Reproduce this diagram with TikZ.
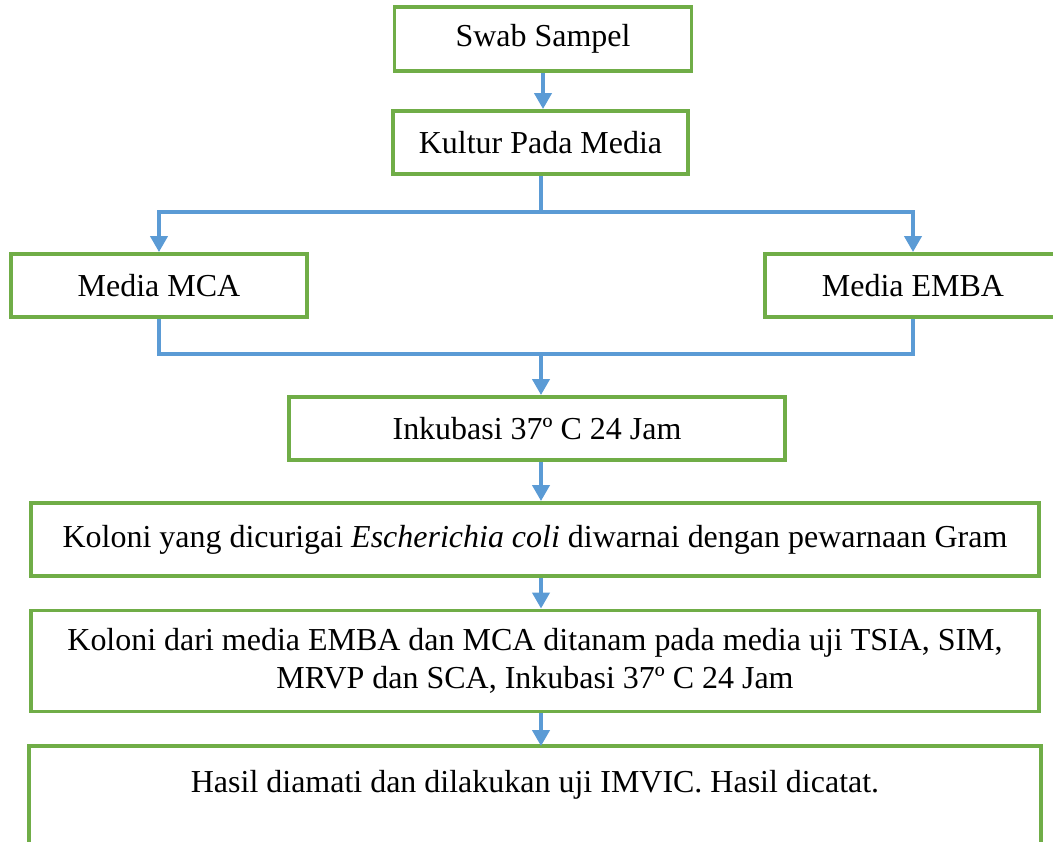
\documentclass[tikz,border=0pt]{standalone}
\usepackage{fontspec}
\setmainfont{Liberation Serif}
\usetikzlibrary{arrows.meta}
\definecolor{boxgreen}{RGB}{112,173,71}
\definecolor{linkblue}{RGB}{91,155,213}

\begin{document}
\begin{tikzpicture}[x=0.02cm, y=-0.02cm,
    stepbox/.style={draw=boxgreen, line width=2.2pt, fill=white, inner sep=0pt,
      align=center, font=\fontsize{18.2}{22}\selectfont},
    link/.style={draw=linkblue, line width=2.2pt},
    arrow/.style={link, -{Triangle[width=0.34cm,length=0.32cm]}}]
    \useasboundingbox (0,0) rectangle (1053,841);
    \clip (0,0) rectangle (1053,841);

    % boxes
    \node[stepbox, minimum width=5.94cm, minimum height=1.28cm] (swab) at (543,39) {Swab Sampel};
    \node[stepbox, minimum width=5.9cm, minimum height=1.26cm] (kultur) at (540.5,142.5) {Kultur Pada Media};
    \node[stepbox, minimum width=5.92cm, minimum height=1.26cm] (mca) at (159,285.5) {Media MCA};
    \node[stepbox, minimum width=5.92cm, minimum height=1.26cm] (emba) at (913,285.5) {Media EMBA};
    \node[stepbox, minimum width=9.92cm, minimum height=1.26cm] (inkub) at (537,428.5) {Inkubasi 37º C 24 Jam};
    \node[stepbox, minimum width=20.16cm, minimum height=1.46cm] (koloni) at (535,539.5)
      {Koloni yang dicurigai \textit{Escherichia coli} diwarnai dengan pewarnaan Gram};
    \node[stepbox, minimum width=20.16cm, minimum height=2.02cm] (tanam) at (535,661)
      {Koloni dari media EMBA dan MCA ditanam pada media uji TSIA, SIM,\\
       MRVP dan SCA, Inkubasi 37º C 24 Jam};
    \node[stepbox, draw=none, minimum width=20.16cm, minimum height=1.48cm] (hasil) at (535,785)
      {Hasil diamati dan dilakukan uji IMVIC. Hasil dicatat.};
    \draw[boxgreen, line width=2.2pt] ([yshift=-1cm]hasil.south west) -- (hasil.north west)
      -- (hasil.north east) -- ([yshift=-1cm]hasil.south east);

    % connectors
    \coordinate (split) at (541,212);
    \coordinate (join) at (541,354);
    \draw[arrow] (swab.south) -- (swab.south |- kultur.north);
    \draw[link] (split |- kultur.south) -- (split);
    \draw[arrow] (split) -| (mca.north);
    \draw[arrow] (split) -| (emba.north);
    \draw[link] (mca.south) |- (join) -| (emba.south);
    \draw[arrow] (join) -- (join |- inkub.north);
    \draw[arrow] (join |- inkub.south) -- (join |- koloni.north);
    \draw[arrow] (join |- koloni.south) -- (join |- tanam.north);
    \draw[arrow] (join |- tanam.south) -- (join |- hasil.north);
\end{tikzpicture}
\end{document}
